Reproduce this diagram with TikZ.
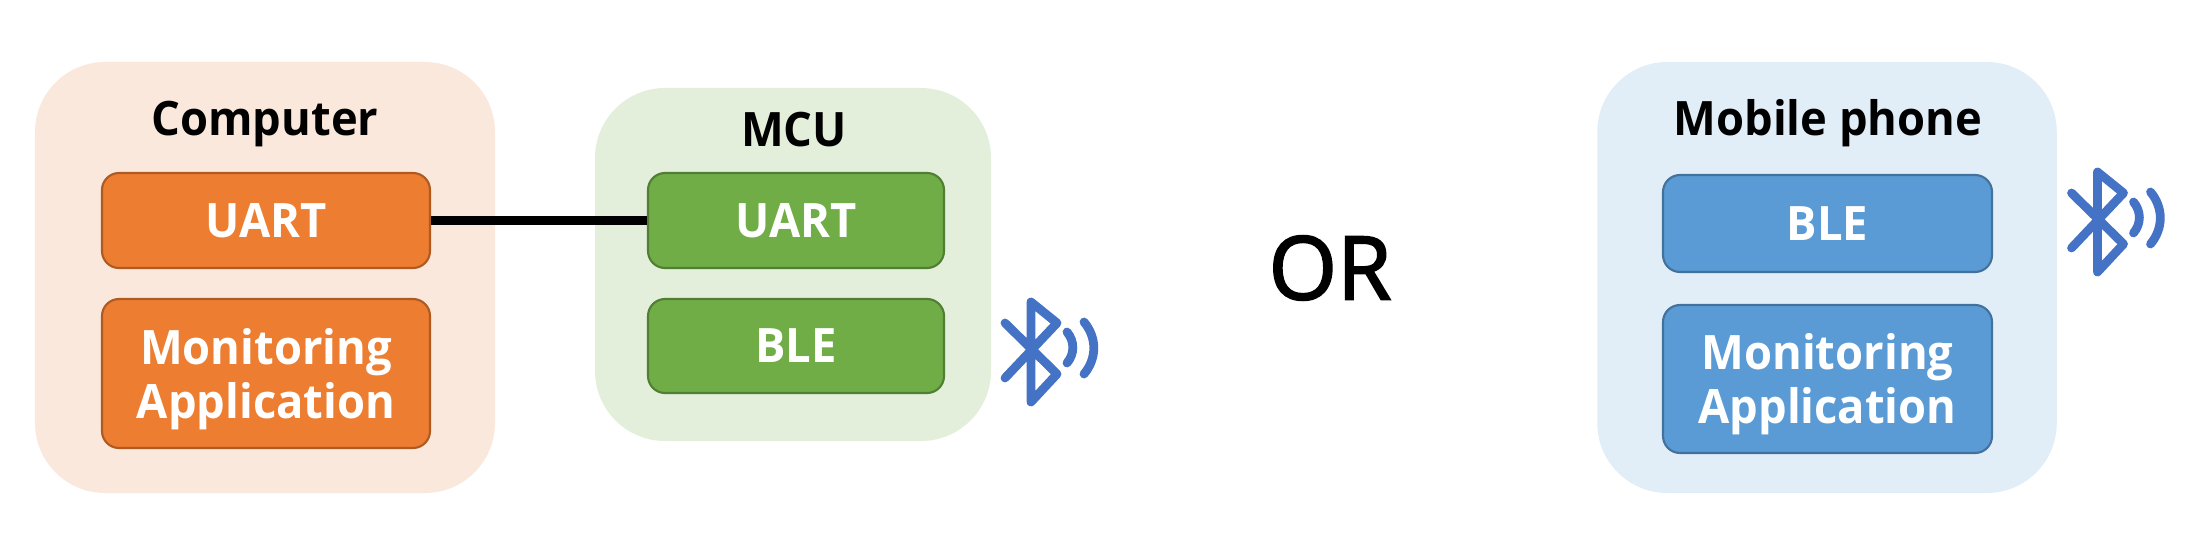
\documentclass[tikz,border=0pt]{standalone}
\usepackage{fontspec}
\setmainfont[FakeStretch=0.955]{Open Sans}
\newfontfamily\orfont[FakeBold=2.2]{Open Sans}
\definecolor{compback}{HTML}{FBE8DC}
\definecolor{compfill}{HTML}{ED7D31}
\definecolor{compline}{HTML}{AE5A21}
\definecolor{mcuback}{HTML}{E3EFDA}
\definecolor{mcufill}{HTML}{70AD47}
\definecolor{mculine}{HTML}{507E32}
\definecolor{phoneback}{HTML}{E1EDF7}
\definecolor{phonefill}{HTML}{5B9BD5}
\definecolor{phoneline}{HTML}{41719C}
\definecolor{bleblue}{HTML}{4472C4}
\newcommand{\applabel}{\rule{0pt}{13.3pt}Monitoring\\Application}
\tikzset{
  backbox/.style={rounded corners=0.7cm,inner sep=0pt},
  innerbox/.style={rounded corners=0.17cm,inner sep=0pt,line width=0.6pt,text=white,
    align=center,font=\bfseries\fontsize{13.5}{15.4}\selectfont},
  titletext/.style={anchor=base,font=\bfseries\fontsize{13.5}{15}\selectfont},
  blueicon/.pic={
    \draw[bleblue,line width=2.5pt,line cap=round,line join=round]
      (-0.26,-0.26)--(0.26,0.29)--(0,0.50)--(0,-0.50)--(0.26,-0.22)--(-0.26,0.29);
    \draw[bleblue,line width=2.5pt,line cap=round] (0.36,0.20) to[bend left=40] (0.36,-0.11);
    \draw[bleblue,line width=2.5pt,line cap=round] (0.53,0.30) to[bend left=40] (0.53,-0.22);
  }
}
\begin{document}
\begin{tikzpicture}
\useasboundingbox (0,0) rectangle (22.12,5.48);
% computer
\node[backbox,fill=compback,minimum width=4.60cm,minimum height=4.31cm] (comp) at (2.65,2.705) {};
\node[titletext] (comptitle) at (2.65,4.13) {Computer};
\node[innerbox,fill=compfill,draw=compline,minimum width=3.28cm,minimum height=0.95cm] (compuart) at (2.66,3.275) {UART};
\node[innerbox,fill=compfill,draw=compline,minimum width=3.28cm,minimum height=1.49cm] (compapp) at (2.66,1.745) {\applabel};
% mcu
\node[backbox,fill=mcuback,minimum width=3.96cm,minimum height=3.53cm] (mcu) at (7.93,2.835) {};
\node[titletext] (mcutitle) at (7.94,4.01) {MCU};
\node[innerbox,fill=mcufill,draw=mculine,minimum width=2.96cm,minimum height=0.95cm] (mcuuart) at (7.96,3.275) {UART};
\node[innerbox,fill=mcufill,draw=mculine,minimum width=2.96cm,minimum height=0.94cm] (mcuble) at (7.96,2.02) {BLE};
\draw[line width=2.3pt] (compuart.east)--(mcuuart.west);
\pic at (10.31,1.96) {blueicon};
% or
\node[font=\fontsize{25}{30}\selectfont\orfont] (ortext) at (13.30,2.80) {OR};
% phone
\node[backbox,fill=phoneback,minimum width=4.595cm,minimum height=4.31cm] (phone) at (18.27,2.705) {};
\node[titletext] (phonetitle) at (18.28,4.13) {Mobile phone};
\node[innerbox,fill=phonefill,draw=phoneline,minimum width=3.29cm,minimum height=0.97cm] (phoneble) at (18.275,3.245) {BLE};
\node[innerbox,fill=phonefill,draw=phoneline,minimum width=3.29cm,minimum height=1.48cm] (phoneapp) at (18.275,1.69) {\applabel};
\pic at (20.975,3.26) {blueicon};
\end{tikzpicture}
\end{document}
